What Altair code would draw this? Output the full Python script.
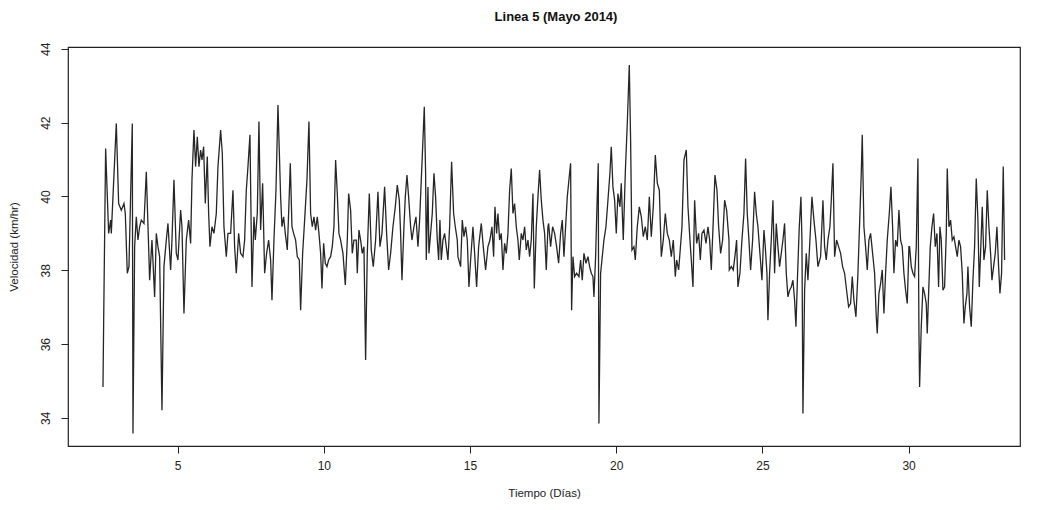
import altair as alt
import pandas as pd

dias = [
    2.446, 2.469, 2.537, 2.640, 2.708, 2.731, 2.902, 2.982, 3.073, 3.164, 3.210, 3.278, 3.335, 3.449, 3.472,
    3.529, 3.586, 3.643, 3.700, 3.757, 3.848, 3.928, 4.008, 4.042, 4.122, 4.213, 4.270, 4.327, 4.384, 4.464,
    4.532, 4.612, 4.669, 4.760, 4.806, 4.874, 4.954, 5.011, 5.102, 5.148, 5.216, 5.296,
    5.376, 5.444, 5.490, 5.558, 5.615, 5.672, 5.729, 5.786, 5.832, 5.889, 5.946, 6.014, 6.060, 6.105, 6.174,
    6.242, 6.322, 6.379, 6.470, 6.527, 6.584, 6.664, 6.721, 6.812, 6.892, 6.949, 7.006, 7.086, 7.154, 7.234,
    7.291, 7.348, 7.405, 7.473, 7.542, 7.610, 7.656, 7.724, 7.781, 7.838, 7.907, 7.975, 8.043, 8.112, 8.180,
    8.226, 8.294, 8.363, 8.431,
    8.522, 8.568, 8.625, 8.682, 8.750, 8.796, 8.853, 8.910, 8.967, 9.035, 9.092, 9.161, 9.206, 9.275, 9.343,
    9.423, 9.491, 9.548, 9.605, 9.662, 9.719, 9.776, 9.833, 9.890, 9.936, 9.993, 10.050, 10.107, 10.164,
    10.232, 10.289, 10.346, 10.403, 10.460, 10.517, 10.574, 10.654, 10.734, 10.802, 10.848, 10.916, 10.973,
    11.030, 11.110, 11.144, 11.201, 11.258, 11.315, 11.372, 11.429,
    11.486, 11.555, 11.623, 11.691, 11.771, 11.851, 11.919, 11.988, 12.079, 12.147, 12.216, 12.284, 12.364,
    12.444, 12.512, 12.581, 12.626, 12.672, 12.740, 12.786, 12.843, 12.900, 12.968, 13.014, 13.082, 13.151,
    13.219, 13.276, 13.333, 13.390, 13.436, 13.481, 13.504, 13.561, 13.595, 13.652, 13.709, 13.766, 13.823,
    13.880, 13.926, 13.971, 14.017, 14.074, 14.131, 14.188, 14.245, 14.302, 14.370, 14.439, 14.496, 14.564,
    14.587, 14.678, 14.735, 14.792, 14.849, 14.906, 14.963, 15.020, 15.100, 15.157, 15.225, 15.294, 15.385,
    15.453, 15.533, 15.613, 15.681, 15.750, 15.807, 15.852, 15.909, 15.955, 16.012, 16.069, 16.126, 16.183,
    16.240, 16.297, 16.354, 16.411, 16.468, 16.525, 16.582, 16.639, 16.685, 16.753, 16.810, 16.867, 16.924,
    16.981, 17.038, 17.095, 17.152, 17.198, 17.266, 17.323, 17.380, 17.437, 17.494, 17.551, 17.608, 17.665,
    17.688, 17.756, 17.825, 17.893, 17.961, 18.030, 18.098, 18.155, 18.212, 18.269, 18.326, 18.383, 18.440,
    18.474, 18.520, 18.577, 18.645, 18.725, 18.782, 18.839, 18.896, 18.965, 19.033, 19.090, 19.147, 19.204,
    19.238, 19.295, 19.341, 19.386, 19.409, 19.466, 19.523, 19.580, 19.649, 19.717, 19.785, 19.831, 19.888,
    19.945, 20.002, 20.059, 20.127, 20.173, 20.241, 20.310, 20.378, 20.447, 20.492, 20.538, 20.606, 20.652,
    20.720,
    20.790, 20.858, 20.926, 20.995, 21.063, 21.132, 21.200, 21.268, 21.337, 21.405, 21.474, 21.542, 21.610,
    21.679, 21.747, 21.816, 21.884, 21.952, 22.021, 22.066, 22.135, 22.180, 22.249, 22.317, 22.397, 22.454,
    22.522, 22.568, 22.625, 22.682, 22.750, 22.819, 22.876, 22.933, 23.001, 23.070, 23.138, 23.195, 23.252,
    23.320, 23.377, 23.446, 23.503, 23.571, 23.640, 23.708, 23.776, 23.856,
    23.867, 23.935, 24.003, 24.072, 24.117, 24.163, 24.231, 24.300, 24.368, 24.425, 24.482, 24.539, 24.596,
    24.665, 24.733, 24.790, 24.847, 24.915, 24.984, 25.052, 25.098, 25.155, 25.189, 25.246, 25.303, 25.360,
    25.417, 25.474, 25.531, 25.588, 25.645, 25.702, 25.759, 25.816, 25.873, 25.930, 25.987, 26.044, 26.101,
    26.147, 26.204, 26.261, 26.318, 26.352, 26.386, 26.443, 26.500, 26.557, 26.625, 26.694, 26.762, 26.831,
    26.899,
    26.990, 27.070, 27.127, 27.184, 27.241, 27.309, 27.355, 27.412, 27.469, 27.537, 27.606, 27.674, 27.743,
    27.811, 27.879, 27.948, 28.016, 28.073, 28.130, 28.199, 28.267, 28.324, 28.381, 28.415, 28.472, 28.529,
    28.586, 28.643, 28.700, 28.769, 28.837, 28.894, 28.928, 28.985, 29.042, 29.099, 29.156, 29.213, 29.270,
    29.339, 29.396, 29.453, 29.498, 29.555, 29.612, 29.669, 29.726, 29.783, 29.840, 29.897, 29.954, 30.011,
    30.034, 30.091, 30.148, 30.205, 30.262, 30.319, 30.353, 30.376, 30.433, 30.490, 30.547, 30.604, 30.638,
    30.684, 30.741, 30.798, 30.855, 30.912, 30.969, 31.026, 31.071, 31.117, 31.174, 31.231, 31.288, 31.322,
    31.379, 31.436, 31.493, 31.550, 31.607, 31.664, 31.721, 31.778, 31.835, 31.892, 31.938, 31.995, 32.029,
    32.086, 32.143, 32.200, 32.257, 32.314, 32.371, 32.417, 32.462, 32.519, 32.576, 32.633, 32.690, 32.747,
    32.804, 32.850, 32.907, 32.964, 33.021, 33.078, 33.124, 33.180, 33.237, 33.283,
]

velocidad = [
    34.84, 36.56, 41.30, 39.00, 39.36, 39.00, 41.98, 39.81, 39.63, 39.81, 39.54, 37.92, 38.10, 41.98, 33.58,
    38.64, 39.45, 38.82, 39.18, 39.36, 39.27, 40.67, 38.64, 37.73, 38.82, 37.28, 39.00, 38.64, 38.37, 34.21,
    38.10, 38.82, 39.27, 38.01, 38.82, 40.45, 38.46, 38.28, 39.63, 39.18, 36.83, 38.82,
    39.36, 38.73, 40.45, 41.80, 40.81, 41.62, 40.81, 41.26, 40.99, 41.35, 39.81, 41.08, 39.54, 38.64, 39.18,
    39.00, 39.54, 40.81, 41.80, 41.17, 39.18, 38.37, 39.00, 39.00, 40.17, 38.64, 37.92, 39.00, 38.46, 38.37,
    38.82, 40.17, 40.81, 41.67, 37.55, 39.45, 38.82, 39.54, 42.03, 39.09, 40.36, 37.92, 38.46, 38.82, 38.28,
    37.19, 38.82, 40.17, 42.48,
    39.99, 39.18, 39.45, 39.00, 38.55, 39.54, 40.90, 39.18, 39.00, 38.82, 38.37, 38.28, 36.92, 38.46, 39.36,
    40.45, 42.03, 39.54, 39.18, 39.45, 39.09, 39.45, 39.00, 38.46, 37.51, 38.73, 38.19, 38.10, 38.28,
    38.37, 38.64, 39.18, 40.99, 40.08, 39.00, 38.82, 38.46, 37.60, 38.82, 40.08, 39.63, 38.46,
    38.82, 38.82, 37.92, 39.09, 38.82, 38.46, 38.64, 35.57,
    38.46, 40.08, 38.55, 38.10, 38.82, 40.13, 38.64, 39.00, 40.26, 39.00, 38.01, 38.46, 39.18,
    39.72, 40.31, 39.90, 39.00, 37.73, 39.18, 39.99, 40.58, 39.99, 39.18, 38.82, 39.18, 39.45,
    38.64, 39.36, 40.45, 41.53, 42.43, 40.63, 38.28, 40.26, 38.46, 39.00, 39.54, 40.63, 39.99,
    38.82, 38.28, 39.36, 38.28, 38.82, 39.00, 38.64, 38.28, 39.18, 40.94, 39.54, 39.18, 38.82,
    38.37, 38.10, 39.36, 38.91, 39.18, 38.82, 37.55, 38.28, 39.18, 38.46, 37.55, 38.64, 39.27,
    38.64, 38.01, 38.64, 38.82, 39.18, 38.37, 39.72, 39.00, 39.54, 38.82, 39.00, 38.01, 38.73,
    38.46, 39.00, 40.17, 40.76, 39.54, 39.81, 39.18, 38.82, 38.28, 39.00, 38.82, 39.18, 38.55,
    38.82, 38.37, 38.82, 40.08, 37.51, 39.18, 39.99, 40.72, 39.90, 39.36, 39.00, 38.01, 39.18,
    39.27, 38.64, 39.18, 39.00, 38.64, 38.19, 39.00, 39.36, 38.37, 39.18, 39.99, 40.45, 40.90,
    36.92, 38.37, 37.83, 37.92, 37.83, 38.28, 37.73, 38.46, 38.19, 38.37, 38.10, 37.92, 37.83,
    37.28, 38.37, 39.72, 40.90, 33.85, 37.92, 38.37, 38.82, 39.18, 39.90, 40.63, 41.35, 40.26,
    39.90, 39.00, 40.08, 39.72, 40.36, 38.82, 40.63, 41.98, 43.56, 41.53, 38.55, 38.64, 38.28,
    39.18,
    39.72, 39.45, 38.91, 39.18, 38.82, 39.99, 38.91, 39.72, 41.12, 40.36, 40.17, 38.37, 38.82,
    39.54, 39.00, 38.82, 38.37, 38.82, 37.83, 38.28, 38.01, 38.46, 39.18, 40.99, 41.26, 39.72,
    38.82, 38.28, 37.55, 39.90, 38.73, 39.00, 38.28, 39.00, 39.09, 38.73, 39.18, 38.82, 38.01,
    39.36, 40.58, 40.17, 39.18, 38.46, 38.82, 39.90, 39.63, 38.82,
    38.01, 38.10, 38.01, 38.46, 38.82, 37.55, 37.92, 38.82, 39.54, 41.03, 39.54, 38.82, 38.01,
    38.82, 40.13, 39.54, 39.18, 38.46, 37.73, 39.09, 38.64, 37.92, 36.65, 37.92, 38.82, 39.90,
    37.92, 39.27, 38.64, 38.10, 38.46, 38.82, 39.27, 37.92, 37.28, 37.46, 37.55, 37.73, 37.19,
    36.47, 37.92, 39.18, 39.99, 38.82, 34.12, 37.46, 38.46, 37.73, 38.82, 39.99, 39.36, 38.82,
    38.10,
    38.37, 39.90, 38.64, 38.28, 38.82, 39.18, 39.90, 40.90, 38.37, 38.82, 38.64, 38.46, 38.10,
    37.92, 37.46, 37.01, 37.10, 37.83, 37.19, 36.74, 37.92, 39.27, 40.63, 41.67, 39.18, 38.64,
    38.01, 38.82, 39.00, 38.46, 37.92, 36.74, 36.29, 37.37, 37.64, 38.01, 36.83, 37.92, 38.82,
    39.54, 40.26, 39.18, 37.92, 38.82, 38.64, 39.63, 38.82, 38.64, 37.92, 37.46, 37.10, 38.64,
    38.64, 38.10, 37.92, 37.83, 38.64, 41.03, 36.38, 34.84, 36.47, 37.55, 37.37, 37.10, 36.29,
    37.37, 38.64, 39.18, 39.54, 38.64, 39.00, 37.55, 39.18, 38.82, 37.46, 37.55, 39.00, 40.76,
    39.18, 39.36, 38.82, 38.91, 38.64, 38.37, 38.82, 38.64, 37.92, 36.56, 37.01, 37.37, 38.10,
    37.01, 36.47, 37.73, 38.64, 40.49, 39.36, 37.55, 38.46, 39.72, 38.28, 38.64, 40.17, 39.18,
    38.46, 37.73, 38.10, 38.46, 39.18, 38.10, 37.37, 37.92, 40.81, 38.28,
]

x_ticks = [5, 10, 15, 20, 25, 30]
y_ticks = [34, 36, 38, 40, 42, 44]

df = pd.DataFrame({"dias": dias, "velocidad": velocidad})

FONT = "Liberation Sans"

chart = (
    alt.Chart(df)
    .mark_line(color="#262626", strokeWidth=1.3, clip=True)
    .encode(
        x=alt.X(
            "dias:Q",
            scale=alt.Scale(domain=[1.25, 33.81], nice=False, zero=False),
            axis=alt.Axis(
                values=x_ticks,
                title="Tiempo (Días)",
                grid=False,
                domain=False,
                tickColor="#222",
                tickSize=7,
                labelPadding=7,
                titlePadding=16,
                format="d",
            ),
        ),
        y=alt.Y(
            "velocidad:Q",
            scale=alt.Scale(domain=[33.24, 44.05], nice=False, zero=False),
            axis=alt.Axis(
                values=y_ticks,
                title="Velocidad (km/hr)",
                grid=False,
                domain=False,
                tickColor="#222",
                tickSize=7,
                labelAngle=-90,
                labelAlign="center",
                labelBaseline="alphabetic",
                labelPadding=12,
                titlePadding=20,
                format="d",
            ),
        ),
    )
    .properties(
        width=952,
        height=399,
        background="white",
        autosize=alt.AutoSizeParams(type="none"),
        padding={"left": 60, "top": 39, "right": 20, "bottom": 54},
        title=alt.TitleParams(
            "Linea 5 (Mayo 2014)",
            font=FONT,
            fontSize=13,
            fontWeight="bold",
            color="#111",
            anchor="middle",
            offset=18,
            dx=12,
        ),
    )
    .configure_view(stroke="#222", strokeWidth=1.2)
    .configure_axis(
        labelFont=FONT,
        titleFont=FONT,
        labelFontSize=12,
        titleFontSize=11.5,
        titleFontWeight="normal",
        labelColor="#222",
        titleColor="#222",
    )
)

chart.save("out.html", embed_options={"renderer": "svg", "actions": False})
